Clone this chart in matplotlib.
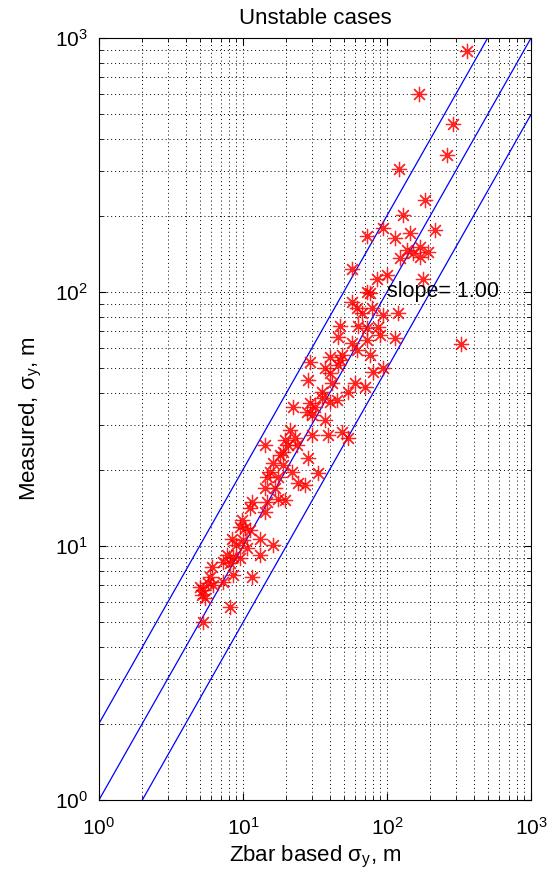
import matplotlib
matplotlib.use("Agg")
import matplotlib.pyplot as plt
import numpy as np

# measured vs Zbar-based sigma_y (unstable cases)
zbar_sigma = [359, 167, 287, 261, 121, 184, 129, 93.8, 72.6, 144,
              215, 114, 138, 123, 152, 169, 193, 169, 57.1, 100,
              85.3, 178, 72.6, 76.2, 57.1, 61.9, 67.0, 93.8, 78.7, 119,
              47.2, 62.9, 72.6, 86.6, 45.7, 57.1, 72.6, 89.4, 114, 326,
              61.9, 48.7, 40.2, 76.2, 29.2, 47.2, 37.1, 45.7, 40.2, 28.3,
              41.5, 79.9, 93.8, 59.9, 70.3, 53.6, 35.4, 35.4, 40.2, 45.0,
              22.2, 29.2, 31.6, 27.8, 30.1, 37.1, 21.2, 23.0, 30.1, 38.9,
              48.7, 53.6, 19.6, 20.5, 19.0, 14.2, 18.1, 28.3, 23.7, 16.2,
              19.0, 15.4, 14.7, 17.5, 21.9, 33.2, 24.1, 27.0, 14.2, 16.7,
              11.6, 14.7, 17.5, 19.6, 11.2, 14.2, 9.84, 9.53, 10.3, 11.2,
              8.39, 10.0, 13.1, 16.2, 7.74, 8.52, 9.53, 13.1, 7.26, 8.12,
              6.09, 8.52, 11.6, 5.90, 7.26, 5.03, 5.71, 6.19, 5.28, 5.19,
              5.45, 8.12, 5.28, 8.94, 10.7]
measured_sigma = [889, 602, 459, 346, 305, 230, 201, 179, 166, 171,
                  175, 163, 146, 136, 142, 150, 144, 137, 123, 117,
                  112, 112, 100, 99, 91.3, 86.5, 82.6, 81.1, 86.5, 82.6,
                  73.5, 73.5, 72.1, 72.8, 66.5, 63.0, 64.7, 67.7, 65.9, 62.4,
                  59.1, 56.5, 55.5, 56.5, 53.0, 54.0, 50.2, 51.6, 48.0, 45.0,
                  43.8, 48.4, 50.2, 43.8, 42.3, 40.4, 40.4, 38.3, 36.9, 37.6,
                  35.3, 36.6, 35.3, 33.7, 32.8, 31.3, 28.6, 26.6, 27.4, 27.4,
                  28.1, 26.6, 26.1, 25.0, 23.4, 25.0, 22.8, 22.2, 25.0, 21.2,
                  20.8, 19.6, 18.7, 18.7, 19.6, 19.4, 17.7, 17.4, 16.9, 16.9,
                  14.9, 14.9, 15.3, 15.2, 14.1, 13.6, 12.7, 11.9, 11.8, 11.6,
                  10.7, 10.6, 10.7, 10.1, 9.22, 9.05, 8.97, 9.22, 8.65, 8.57,
                  8.27, 7.69, 7.55, 7.55, 7.22, 6.90, 7.15, 7.02, 6.71, 6.41,
                  6.24, 5.75, 5.02, 10.1, 9.82]

# reference lines: 1:1 and factor-of-two bounds
line_x = [1, 1000]
ratios = [2.0, 1.0, 0.5]
slope = 1.00

plt.rcParams['font.family'] = ['Liberation Sans', 'DejaVu Sans']
plt.rcParams['mathtext.default'] = 'regular'

fig = plt.figure(figsize=(5.5, 8.76), dpi=100)
ax = fig.add_axes([0.18, 0.0868, 0.7855, 0.8698])

for r in ratios:
    ax.plot(line_x, [v * r for v in line_x], color='blue', lw=0.9)

ax.plot(zbar_sigma, measured_sigma, linestyle='none', marker=(8, 2, 0),
        markersize=11, markeredgecolor=(1, 0, 0, 0.85), mew=0.9)

ax.text(100, 100, "slope= %.2f" % slope, fontsize=15.5, ha='left', va='center')

ax.set_xscale('log')
ax.set_yscale('log')
ax.set_xlim(1, 1000)
ax.set_ylim(1, 1000)
ax.grid(True, which='both', linestyle=(0, (1, 3)), color='black', linewidth=0.7)
ax.tick_params(which='both', direction='in', top=True, right=True, labelsize=15)
ax.tick_params(which='major', length=5)
ax.tick_params(which='minor', length=3)
ax.tick_params(axis='x', which='major', pad=12)
ax.tick_params(axis='y', which='major', pad=8)

ax.set_title("Unstable cases", fontsize=16, pad=10)
ax.set_xlabel(r"Zbar based $\sigma_y$, m", fontsize=16, labelpad=4)
ax.set_ylabel(r"Measured, $\sigma_y$, m", fontsize=16, labelpad=8)

fig.savefig("out.png", dpi=100)
